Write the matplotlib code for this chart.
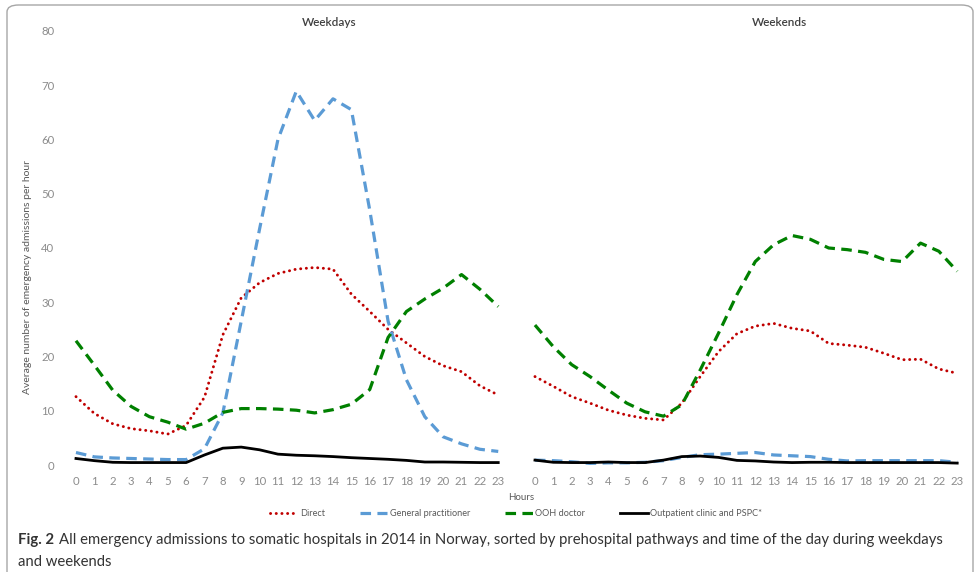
import matplotlib
matplotlib.use("Agg")
import matplotlib.pyplot as plt
import numpy as np
from matplotlib.lines import Line2D
from matplotlib.patches import FancyBboxPatch

plt.rcParams["font.family"] = ["Lato", "DejaVu Sans"]
NARROW = ["Liberation Sans Narrow", "Lato", "DejaVu Sans"]

HOURS = list(range(24))

# average emergency admissions per hour, by prehospital pathway
direct_wd = [12.6, 9.5, 7.6, 6.7, 6.3, 5.7, 7.3, 12.5, 24.0, 30.8, 33.6, 35.3,
             36.1, 36.4, 36.1, 31.5, 28.3, 25.0, 22.5, 20.0, 18.3, 17.2, 14.6, 12.9]
gp_wd = [2.3, 1.5, 1.3, 1.2, 1.1, 1.0, 1.0, 3.0, 9.6, 26.5, 43.5, 60.0,
         68.9, 63.5, 67.5, 65.5, 47.0, 26.5, 15.7, 8.9, 5.2, 3.9, 2.9, 2.5]
ooh_wd = [22.9, 18.4, 13.8, 10.8, 8.9, 7.9, 6.6, 7.7, 9.7, 10.4, 10.4, 10.3,
          10.1, 9.6, 10.2, 11.2, 13.9, 23.5, 28.3, 30.6, 32.6, 35.1, 32.4, 29.2]
opc_wd = [1.2, 0.8, 0.5, 0.45, 0.45, 0.45, 0.45, 1.85, 3.1, 3.3, 2.8, 2.0,
          1.8, 1.7, 1.55, 1.35, 1.2, 1.05, 0.85, 0.55, 0.55, 0.5, 0.45, 0.45]

direct_we = [16.3, 14.5, 12.6, 11.4, 10.1, 9.2, 8.6, 8.3, 11.4, 16.3, 20.9, 24.2,
             25.6, 26.1, 25.2, 24.7, 22.4, 22.1, 21.7, 20.6, 19.4, 19.5, 17.7, 16.9]
gp_we = [0.9, 0.8, 0.6, 0.3, 0.4, 0.4, 0.5, 0.8, 1.4, 1.9, 2.0, 2.15,
         2.3, 1.85, 1.7, 1.55, 1.05, 0.75, 0.8, 0.8, 0.8, 0.8, 0.8, 0.5]
ooh_we = [25.8, 21.8, 18.5, 16.3, 13.8, 11.4, 9.8, 9.0, 11.1, 17.5, 24.3, 31.4,
          37.5, 40.6, 42.3, 41.6, 40.0, 39.7, 39.2, 37.9, 37.5, 40.9, 39.4, 35.7]
opc_we = [0.9, 0.5, 0.45, 0.45, 0.55, 0.45, 0.45, 0.9, 1.55, 1.65, 1.4, 0.85,
          0.75, 0.55, 0.45, 0.5, 0.5, 0.45, 0.45, 0.45, 0.45, 0.45, 0.45, 0.35]

SERIES = [
    ("Direct", direct_wd, direct_we, "#C00000", dict(linestyle=(0, (0.05, 1.9)), lw=2.1, dash_capstyle="round")),
    ("General practitioner", gp_wd, gp_we, "#5B9BD5", dict(linestyle=(0, (3.3, 2.0)), lw=2.3)),
    ("OOH doctor", ooh_wd, ooh_we, "#008000", dict(linestyle=(0, (3.3, 2.0)), lw=2.3)),
    ("Outpatient clinic and PSPC*", opc_wd, opc_we, "#000000", dict(linestyle="-", lw=2.0)),
]

CAPTION_BOLD = "Fig. 2"
CAPTION_1 = ("All emergency admissions to somatic hospitals in 2014 in Norway, sorted by "
             "prehospital pathways and time of the day during weekdays")
CAPTION_2 = "and weekends"

TICK_GREY = "#8C8C8C"
TEXT_GREY = "#595959"
W, H = 975, 572

fig = plt.figure(figsize=(W / 100, H / 100), dpi=100)

# rounded frame around chart and caption
frame = FancyBboxPatch((7 / W, -0.05), 966 / W, 1 - 5 / H + 0.05,
                       boxstyle="round,pad=0,rounding_size=0.012",
                       transform=fig.transFigure, facecolor="none",
                       edgecolor="#A6A6A6", linewidth=1.0)
fig.patches.append(frame)

ax = fig.add_axes([66.8 / W, 1 - 465 / H, 899.6 / W, 434 / H])

# weekdays on positions 0-23, one empty slot, weekends on 25-48
x_wd = np.arange(24)
x_we = np.arange(24) + 25
for label, wd, we, color, style in SERIES:
    ax.plot(x_wd, wd, color=color, solid_joinstyle="round", **style)
    ax.plot(x_we, we, color=color, solid_joinstyle="round", **style)

ax.set_xlim(-0.5, 48.5)
ax.set_ylim(0, 80)
ax.set_yticks(range(0, 81, 10))
ax.set_xticks(list(x_wd) + list(x_we))
ax.set_xticklabels([str(h) for h in HOURS] * 2)
ax.tick_params(axis="both", length=0, labelsize=8.2, labelcolor=TICK_GREY)
ax.tick_params(axis="x", pad=8)
ax.tick_params(axis="y", pad=9)
for side in ax.spines.values():
    side.set_visible(False)

fig.text(329 / W, 1 - 23 / H, "Weekdays", ha="center", va="center", fontsize=8.5,
         color="#404040", fontweight="semibold")
fig.text(779 / W, 1 - 23 / H, "Weekends", ha="center", va="center", fontsize=8.5,
         color="#404040", fontweight="semibold")

fig.text(28 / W, 1 - 277 / H, "Average number of emergency admissions per hour",
         rotation=90, ha="center", va="center", fontsize=7.5, color=TEXT_GREY)
fig.text(521 / W, 1 - 497 / H, "Hours", ha="center", va="center",
         fontsize=7, color=TEXT_GREY, family=NARROW)

handles = [Line2D([], [], color=c, **st) for _, _, _, c, st in SERIES]
fig.legend(handles, [s[0] for s in SERIES], loc="center", ncol=4,
           bbox_to_anchor=(516 / W, 1 - 514 / H), frameon=False,
           prop={"family": NARROW, "size": 6.6}, labelcolor=TEXT_GREY,
           handlelength=3.0, handletextpad=0.3, columnspacing=3.8)

# caption: bold lead-in followed by regular text, sized to span the frame
renderer = fig.canvas.get_renderer()
cap_size = 11.5
lead = fig.text(18 / W, 1 - 540 / H, CAPTION_BOLD, ha="left", va="center",
                fontsize=cap_size, fontweight="bold", color="#333333", family=NARROW)
body = fig.text(0, 1 - 540 / H, CAPTION_1, ha="left", va="center",
                fontsize=cap_size, color="#333333", family=NARROW)
lead_w = lead.get_window_extent(renderer).width
gap = 5
body_w = body.get_window_extent(renderer).width
scale = min(1.0, (946 - 18 - gap) / (lead_w + body_w))
lead.set_fontsize(cap_size * scale)
body.set_fontsize(cap_size * scale)
lead_w = lead.get_window_extent(renderer).width
body.set_x((18 + lead_w + gap) / W)
fig.text(18 / W, 1 - 562 / H, CAPTION_2, ha="left", va="center",
         fontsize=cap_size * scale, color="#333333", family=NARROW)

fig.savefig("out.png", dpi=100)
